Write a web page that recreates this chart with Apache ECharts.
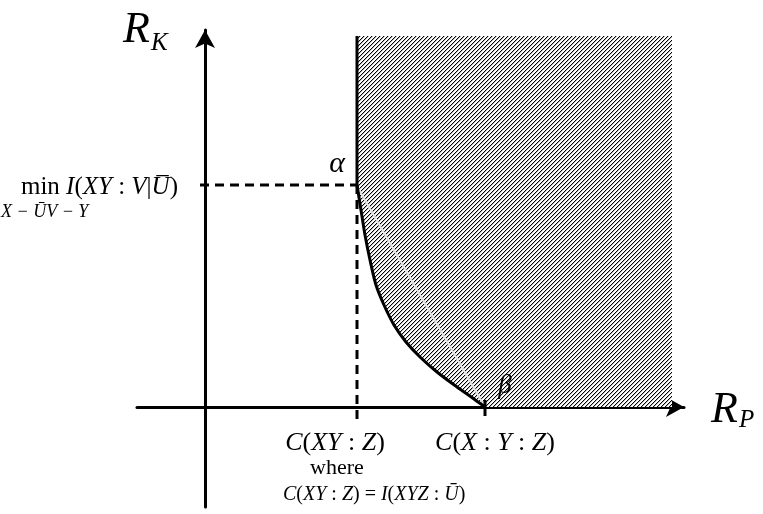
<!DOCTYPE html>
<html>
<head>
<meta charset="utf-8">
<script src="https://cdn.jsdelivr.net/npm/echarts@6/dist/echarts.min.js"></script>
<style>
  html, body { margin: 0; padding: 0; background: #fff; }
  #chart { width: 763px; height: 514px; }
</style>
</head>
<body>
<div id="chart"></div>
<script>
// values (1 unit ~ 100px)
const cXYZ = 1.52          // C(XY : Z)
const cXYZ3 = 2.80         // C(X : Y : Z)
const alphaY = 2.22        // min I(XY : V|U)
const regionTop = 3.71
const regionRight = 4.67

// lower-left boundary of the achievable region, from alpha down to beta
const curveX = [1.52, 1.56, 1.60, 1.65, 1.71, 1.79, 1.89, 2.01, 2.15, 2.32, 2.52, 2.69, 2.80]
const curveY = [2.22, 1.97, 1.72, 1.47, 1.22, 1.02, 0.82, 0.65, 0.50, 0.35, 0.20, 0.08, 0.00]

const xTicks = [cXYZ, cXYZ3]
const xTickLabels = [
  '{i|C}{r|(}{i|XY}{r| : }{i|Z}{r|)}',
  '{i|C}{r|(}{i|X}{r| : }{i|Y}{r| : }{i|Z}{r|)}'
]
const yTickLabel = '{r|min }{i|I}{r|(}{i|XY}{r| : }{i|V}{r||}{i|U\u0305}{r|)}'

const FONT = 'Liberation Serif'

function makeHatch () {
  const c = document.createElement('canvas')
  c.width = 4
  c.height = 4
  const ctx = c.getContext('2d')
  ctx.fillStyle = '#fff'
  ctx.fillRect(0, 0, 4, 4)
  for (let i = 0; i < 4; i++) {
    ctx.fillStyle = '#000'
    ctx.fillRect(i, 3 - i, 1, 1)
    ctx.fillStyle = '#bbb'
    ctx.fillRect((i + 1) % 4, 3 - i, 1, 1)
  }
  return c
}

const curve = curveX.map((x, i) => [x, curveY[i]])
const region = [[cXYZ, regionTop], [regionRight, regionTop], [regionRight, 0]]
  .concat(curve.slice().reverse())

function richSet (size) {
  return {
    i: { fontFamily: FONT, fontStyle: 'italic', fontSize: size, color: '#000' },
    r: { fontFamily: FONT, fontSize: size, color: '#000' },
    g: { fontFamily: FONT, fontStyle: 'italic', fontSize: size, color: '#000' }
  }
}

function note (x, y, text, offset, size, extra) {
  return {
    value: [x, y],
    label: Object.assign({
      show: true,
      position: 'inside',
      align: 'center',
      verticalAlign: 'middle',
      offset: offset,
      color: '#000',
      textBorderWidth: 0,
      formatter: text,
      rich: richSet(size)
    }, extra || {})
  }
}

const chart = echarts.init(document.getElementById('chart'))
chart.setOption({
  animation: false,
  grid: { left: 137, right: 79, top: 30, bottom: 7 },
  xAxis: {
    type: 'value',
    min: -0.68,
    max: 4.79,
    axisLine: {
      lineStyle: { color: '#000', width: 3 },
      symbol: ['none', 'arrow'],
      symbolSize: [15, 18]
    },
    axisTick: { show: false },
    axisLabel: { show: false },
    splitLine: { show: false }
  },
  yAxis: {
    type: 'value',
    min: -1.0,
    max: 3.77,
    axisLine: {
      lineStyle: { color: '#000', width: 3 },
      symbol: ['none', 'arrow'],
      symbolSize: [15, 18]
    },
    axisTick: { show: false },
    axisLabel: { show: false },
    splitLine: { show: false }
  },
  graphic: [
    { type: 'text', left: 123, top: 8, style: { text: 'R', font: 'italic 44px "Liberation Serif"', fill: '#000' } },
    { type: 'text', left: 151, top: 31, style: { text: 'K', font: 'italic 25px "Liberation Serif"', fill: '#000' } },
    { type: 'text', left: 711, top: 388, style: { text: 'R', font: 'italic 44px "Liberation Serif"', fill: '#000' } },
    { type: 'text', left: 739, top: 408, style: { text: 'P', font: 'italic 25px "Liberation Serif"', fill: '#000' } },
    { type: 'text', left: 1, top: 203, style: { text: 'X \u2212 U\u0304V \u2212 Y', font: 'italic 18px "Liberation Serif"', fill: '#000' } },
    { type: 'text', left: 310, top: 457, style: { text: 'where', font: '22px "Liberation Serif"', fill: '#000' } },
    {
      type: 'text',
      left: 283,
      top: 485,
      style: {
        text: '{i|C}{r|(}{i|XY}{r| : }{i|Z}{r|) = }{i|I}{r|(}{i|XYZ}{r| : }{i|\u016A}{r|)}',
        rich: richSet(20)
      }
    }
  ],
  series: [
    {
      type: 'custom',
      z: 1,
      silent: true,
      data: [[0, 0]],
      renderItem: (params, api) => ({
        type: 'polygon',
        shape: { points: region.map(p => api.coord(p)) },
        style: { fill: { image: makeHatch(), repeat: 'repeat' }, lineWidth: 0 }
      })
    },
    {
      type: 'line',
      z: 3,
      data: [[cXYZ + 0.01, alphaY - 0.03], [cXYZ3, 0]],
      showSymbol: false,
      lineStyle: { color: '#e4e4e4', width: 2 }
    },
    {
      type: 'line',
      z: 4,
      data: curve,
      smooth: 0.3,
      showSymbol: false,
      lineStyle: { color: '#000', width: 3 }
    },
    {
      type: 'line',
      z: 4,
      data: [[cXYZ, alphaY], [cXYZ, regionTop]],
      showSymbol: false,
      lineStyle: { color: '#000', width: 3 }
    },
    {
      type: 'line',
      z: 4,
      data: [[-0.05, alphaY], [cXYZ, alphaY]],
      showSymbol: false,
      lineStyle: { color: '#000', width: 3, type: [9, 6] }
    },
    {
      type: 'line',
      z: 4,
      data: [[cXYZ, alphaY], [cXYZ, -0.18]],
      showSymbol: false,
      lineStyle: { color: '#000', width: 3, type: [9, 6] }
    },
    {
      type: 'line',
      z: 4,
      data: [[cXYZ3, 0.07], [cXYZ3, -0.09]],
      showSymbol: false,
      lineStyle: { color: '#000', width: 3 }
    },
    {
      type: 'scatter',
      z: 5,
      symbolSize: 0,
      silent: true,
      itemStyle: { opacity: 1 },
      data: [
        note(xTicks[0], 0, xTickLabels[0], [-22, 36], 26),
        note(xTicks[1], 0, xTickLabels[1], [10, 36], 26),
        note(0, alphaY, yTickLabel, [-27, 2], 25, { align: 'right' }),
        note(cXYZ, alphaY, '{g|\u03B1}', [-20, -21], 30),
        note(cXYZ3, 0, '{g|\u03B2}', [20, -21], 27)
      ]
    }
  ]
})
</script>
</body>
</html>
